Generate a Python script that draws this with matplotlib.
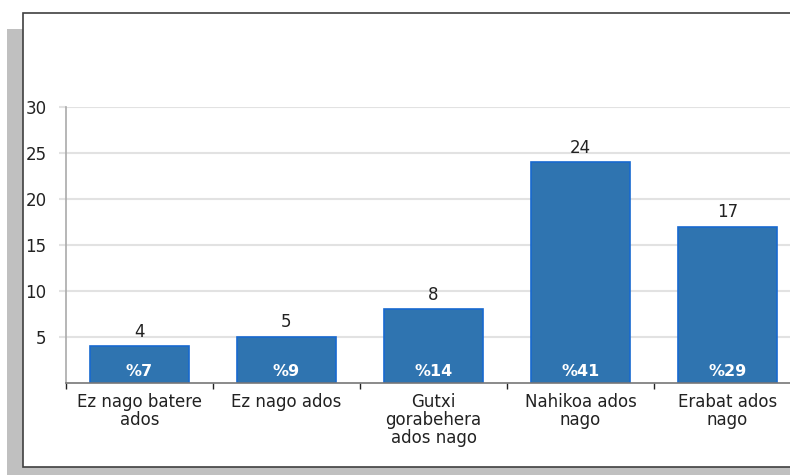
import matplotlib
matplotlib.use('Agg')
import matplotlib.pyplot as plt
from matplotlib.patches import Rectangle

CATEGORIES = ['Ez nago batere\nados', 'Ez nago ados', 'Gutxi\ngorabehera\nados nago',
              'Nahikoa ados\nnago', 'Erabat ados\nnago']
COUNTS = [4, 5, 8, 24, 17]
PERCENTS = ['%7', '%9', '%14', '%41', '%29']
YTICKS = [5, 10, 15, 20, 25, 30]

W, H = 790, 475
fig = plt.figure(figsize=(W / 100, H / 100), dpi=100)
fig.patch.set_facecolor('white')

# grey shadow and white framed box behind the chart
fig.patches.append(Rectangle((7 / W, 0), 1, (H - 29) / H, transform=fig.transFigure,
                             facecolor='#c0c0c0', edgecolor='none', zorder=-2))
fig.patches.append(Rectangle((23 / W, 8 / H), 1, (467 - 13) / H, transform=fig.transFigure,
                             facecolor='white', edgecolor='#404040', linewidth=1.2, zorder=-1))

ax = fig.add_axes([66 / W, (H - 383) / H, 735 / W, (383 - 107) / H])
ax.patch.set_alpha(0)

x = range(len(COUNTS))
bars = ax.bar(x, COUNTS, width=0.667, color='#2f74b0', edgecolor='#1869d0',
              linewidth=1.2, zorder=3)

ax.set_xlim(-0.5, len(COUNTS) - 0.5)
ax.set_ylim(0, 30)
ax.set_yticks(YTICKS)
ax.set_yticklabels([str(v) for v in YTICKS])
ax.yaxis.grid(True, color='#e2e2e2', linewidth=1.5, zorder=0)
ax.tick_params(axis='y', length=5, color='#e2e2e2', width=1.5, pad=9,
               labelsize=12, labelcolor='#222222')

ax.set_xticks([i - 0.5 for i in range(len(COUNTS) + 1)], minor=False)
ax.set_xticklabels([])
ax.set_xticks(list(x), minor=True)
ax.set_xticklabels(CATEGORIES, minor=True, fontsize=12, color='#222222',
                   linespacing=0.97)
ax.tick_params(axis='x', which='major', length=4, color='#222222', width=1)
ax.tick_params(axis='x', which='minor', length=0, pad=7.5)

for s in ['top', 'right']:
    ax.spines[s].set_visible(False)
ax.spines['left'].set_color('#aaaaaa')
ax.spines['left'].set_linewidth(1.2)
ax.spines['bottom'].set_color('#777777')
ax.spines['bottom'].set_linewidth(1.2)
ax.spines['bottom'].set_zorder(4)

ax.bar_label(bars, labels=[str(c) for c in COUNTS], padding=4, fontsize=12,
             color='#222222')
for i, p in enumerate(PERCENTS):
    ax.annotate(p, xy=(i, 0), xytext=(0, 3), textcoords='offset points',
                ha='center', va='bottom', color='white', fontsize=11.5,
                fontweight='bold', zorder=5)

fig.savefig('out.png', dpi=100)
